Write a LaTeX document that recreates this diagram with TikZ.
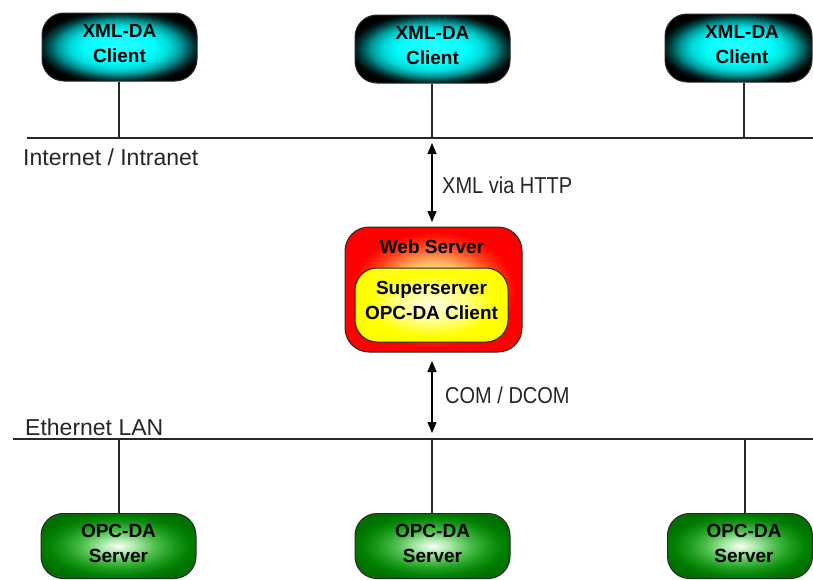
\documentclass[tikz,border=0pt]{standalone}
\usepackage{fontspec}
\setmainfont{Liberation Sans}
\usetikzlibrary{arrows.meta}
\pgfdeclareradialshading{cyanglow}{\pgfpoint{0bp}{0bp}}{rgb(0bp)=(0.15,1,1);rgb(11bp)=(0,1,1);rgb(16bp)=(0,0.85,0.85);rgb(20bp)=(0,0.58,0.58);rgb(23bp)=(0,0.28,0.28);rgb(26bp)=(0,0.05,0.05);rgb(28bp)=(0,0,0);rgb(50bp)=(0,0,0)}
\pgfdeclareradialshading{greenglow}{\pgfpoint{0bp}{0bp}}{rgb(0bp)=(0.97,1,0.97);rgb(5bp)=(0.7,0.92,0.7);rgb(12bp)=(0.3,0.74,0.3);rgb(18bp)=(0.1,0.6,0.1);rgb(23bp)=(0,0.5,0);rgb(27bp)=(0,0.44,0);rgb(50bp)=(0,0.44,0)}
\pgfdeclareradialshading{redglow}{\pgfpoint{0bp}{0bp}}{rgb(0bp)=(1,1,0.8);rgb(11bp)=(1,0.72,0.4);rgb(18bp)=(1,0.25,0.1);rgb(23bp)=(1,0,0);rgb(50bp)=(1,0,0)}
\pgfdeclareradialshading{yellowglow}{\pgfpoint{0bp}{0bp}}{rgb(0bp)=(1,1,0.88);rgb(11bp)=(1,1,0.55);rgb(21bp)=(1,1,0);rgb(50bp)=(1,1,0)}
\definecolor{linegray}{RGB}{40,40,40}
\tikzset{
  boxbase/.style={draw=linegray, line width=1pt, inner sep=0pt, rounded corners=22pt},
  clientbox/.style={boxbase, shading=cyanglow, minimum width=155pt, minimum height=68pt},
  serverbox/.style={boxbase, shading=greenglow, minimum width=155pt, minimum height=65pt},
  webbox/.style={boxbase, shading=redglow, minimum width=177pt, minimum height=125pt, rounded corners=24pt},
  innerbox/.style={boxbase, shading=yellowglow, minimum width=153pt, minimum height=74pt, rounded corners=22pt},
  boldtxt/.style={inner sep=0pt, align=center, font=\fontsize{19pt}{25pt}\selectfont\bfseries, text=black},
  sidetxt/.style={inner sep=0pt, anchor=base west, font=\fontsize{23pt}{27pt}\selectfont, text=black!85},
  arrtxt/.style={inner sep=0pt, anchor=base west, font=\fontsize{20pt}{24pt}\selectfont, text=black!85},
  net/.style={draw=linegray, line width=1.1pt},
  dblarrow/.style={draw=black, line width=1.2pt, {Triangle[length=11pt,width=9pt]}-{Triangle[length=11pt,width=9pt]}}
}
\begin{document}
\begin{tikzpicture}[x=1pt,y=-1pt]
\useasboundingbox (0,0) rectangle (813,579);
% network lines
\coordinate (inL) at (27,138);
\coordinate (inR) at (813,138);
\coordinate (etL) at (13,439);
\coordinate (etR) at (813,439);
\draw[net] (inL) -- (inR);
\draw[net] (etL) -- (etR);
% clients
\node[clientbox] (c1) at (119.5,47) {};
\node[clientbox] (c2) at (432.5,49) {};
\node[clientbox, minimum width=147pt] (c3) at (738.5,48) {};
\node[boldtxt] (c1t) at (119.5,43.5) {XML-DA\\Client};
\node[boldtxt] (c2t) at (432.5,45.5) {XML-DA\\Client};
\node[boldtxt] (c3t) at (742,44.5) {XML-DA\\Client};
\coordinate (i1) at (119,138);
\coordinate (i2) at (432,138);
\coordinate (i3) at (744,138);
\draw[net] (c1.south -| i1) -- (i1);
\draw[net] (c2.south -| i2) -- (i2);
\draw[net] (c3.south -| i3) -- (i3);
\node[sidetxt] (inet) at (23,165) {Internet / Intranet};
% web server
\node[webbox] (ws) at (433.5,289.5) {};
\node[boldtxt, anchor=base] (wst) at (432,253) {Web Server};
\node[innerbox] (ss) at (431.5,305) {};
\node[boldtxt] (sst) at (431.5,300.6) {Superserver\\OPC-DA Client};
% arrows
\coordinate (a1t) at (432,143);
\coordinate (a1b) at (432,222);
\draw[dblarrow] (a1t) -- (a1b);
\node[arrtxt] (a1l) at (442,193) {\scalebox{1}[1.15]{XML via HTTP}};
\coordinate (a2t) at (432,361);
\coordinate (a2b) at (432,433);
\draw[dblarrow] (a2t) -- (a2b);
\node[arrtxt] (a2l) at (445,403) {\scalebox{1}[1.15]{COM / DCOM}};
\node[sidetxt] (eth) at (25,435) {Ethernet LAN};
% servers
\node[serverbox] (s1) at (118.5,546) {};
\node[serverbox] (s2) at (432.5,546) {};
\node[serverbox, minimum width=145pt] (s3) at (740,546) {};
\node[boldtxt] (s1t) at (118.5,543.7) {OPC-DA\\Server};
\node[boldtxt] (s2t) at (432.5,543.7) {OPC-DA\\Server};
\node[boldtxt] (s3t) at (744,543.7) {OPC-DA\\Server};
\coordinate (e1) at (119,439);
\coordinate (e2) at (432,439);
\coordinate (e3) at (745,439);
\draw[net] (e1) -- (s1.north -| e1);
\draw[net] (e2) -- (s2.north -| e2);
\draw[net] (e3) -- (s3.north -| e3);
\end{tikzpicture}
\end{document}
